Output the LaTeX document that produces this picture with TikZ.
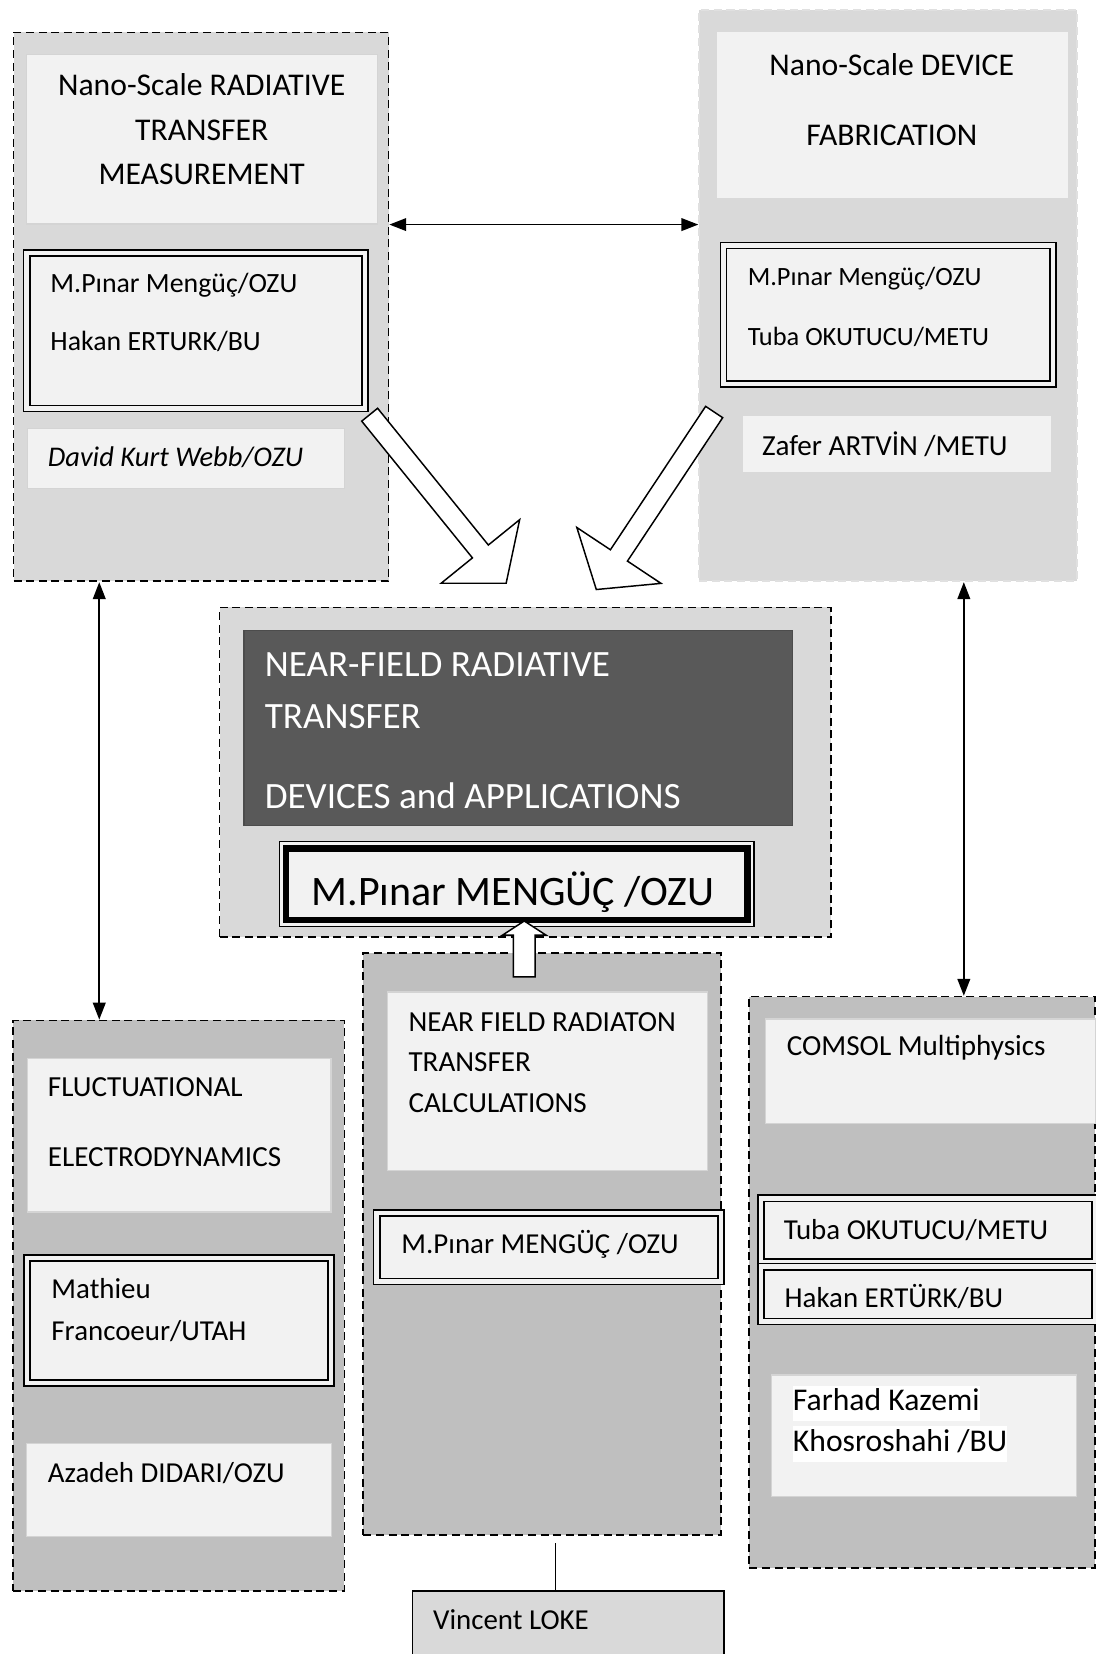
\documentclass[tikz,border=0pt]{standalone}
\usepackage{fontspec}
\setmainfont{Carlito}
\usetikzlibrary{shapes.arrows,arrows.meta}
\definecolor{boxtop}{HTML}{D9D9D9}
\definecolor{boxlow}{HTML}{BFBFBF}
\definecolor{paper}{HTML}{F2F2F2}
\definecolor{slate}{HTML}{595959}
\tikzset{
	grpbox/.style={draw,line width=0.8pt,dash pattern=on 3.8pt off 2.2pt,anchor=north west,inner sep=0pt},
	panel/.style={fill=paper,draw=black!17,line width=0.6pt,anchor=north west,inner sep=0pt},
	people/.style={fill=paper,draw,line width=0.8pt,double=paper,double distance=2.1pt,anchor=north west,inner sep=0pt},
	lbl/.style={anchor=west,inner sep=0pt,align=left},
	biarrow/.style={line width=0.8pt,{Triangle[length=8pt,width=6pt]}-{Triangle[length=8pt,width=6pt]}},
	hollow/.style={single arrow,draw,fill=white,line width=0.7pt,inner xsep=0pt,sloped,allow upside down,anchor=tail}
}
\begin{document}
\begin{tikzpicture}[x=0.5pt,y=-0.5pt]
	\useasboundingbox (0,0) rectangle (1039,1568);
	% measurement group
	\node[grpbox,fill=boxtop,minimum width=177.75pt,minimum height=260.15pt] (rad) at (12,30) {};
	\node[panel,minimum width=166.25pt,minimum height=80.25pt] (radhead) at (24.6,51.2) {};
	\node[align=center,inner sep=0pt,font=\fontsize{15pt}{21.1pt}\selectfont] (radtxt) at (191.2,122.8) {Nano-Scale RADIATIVE\\TRANSFER\\MEASUREMENT};
	\node[people,minimum width=160.3pt,minimum height=73.7pt] (radppl) at (24.5,239) {};
	\node[lbl,font=\fontsize{13.2pt}{27.5pt}\selectfont] (radppltxt) at (47.4,295.8) {M.Pınar Mengüç/OZU\\Hakan ERTURK/BU};
	\node[panel,minimum width=150.15pt,minimum height=28.5pt] (radwebb) at (25.4,405.6) {};
	\node[lbl,font=\fontsize{13.5pt}{16pt}\itshape] (radwebbtxt) at (45,433.2) {David Kurt Webb/OZU};
	% fabrication group
	\node[grpbox,draw=black!12,fill=boxtop,minimum width=179pt,minimum height=270.75pt] (dev) at (662,8.8) {};
	\node[panel,draw=none,minimum width=166.2pt,minimum height=78.7pt] (devhead) at (679.4,30) {};
	\node[align=center,inner sep=0pt,font=\fontsize{15pt}{33.2pt}\selectfont] (devtxt) at (845.4,94.8) {Nano-Scale DEVICE\\FABRICATION};
	\node[people,minimum width=156.2pt,minimum height=65.65pt] (devppl) at (685.1,231.9) {};
	\node[lbl,font=\fontsize{12.5pt}{28.5pt}\selectfont] (devppltxt) at (708.5,290.6) {M.Pınar Mengüç/OZU\\Tuba OKUTUCU/METU};
	\node[panel,draw=none,minimum width=145.9pt,minimum height=26.8pt] (devartvin) at (704.2,393.4) {};
	\node[lbl,font=\fontsize{13.8pt}{16pt}\selectfont] (devartvintxt) at (722,421) {Zafer ARTVİN /METU};
	% near-field group
	\node[grpbox,fill=boxtop,minimum width=289.85pt,minimum height=156.1pt] (nf) at (207.3,575.1) {};
	\node[fill=slate,draw=black!70,line width=0.6pt,anchor=north west,inner sep=0pt,minimum width=260pt,minimum height=92.45pt] (nfhead) at (230.8,597.2) {};
	\node[lbl,text=white,font=\fontsize{17.6pt}{24.5pt}\selectfont] (nftxt) at (250.6,692.8) {NEAR-FIELD RADIATIVE\\TRANSFER\\[13.4pt]DEVICES and APPLICATIONS};
	\node[draw,fill=paper,line width=0.6pt,anchor=north west,inner sep=0pt,minimum width=225pt,minimum height=40.25pt] (nfmengu) at (264.3,797.3) {};
	\draw[line width=3pt] ([shift={(7,7)}]nfmengu.north west) rectangle ([shift={(-7,-7)}]nfmengu.south east);
	\node[inner sep=0pt,font=\fontsize{19.9pt}{24pt}\selectfont] (nfmengutxt) at (486.4,845.9) {M.Pınar MENGÜÇ /OZU};
	% fluctuational group
	\node[grpbox,fill=boxlow,minimum width=157.25pt,minimum height=270.3pt] (fe) at (11.2,966.6) {};
	\node[panel,minimum width=143.9pt,minimum height=72.75pt] (fehead) at (25.4,1002.8) {};
	\node[lbl,font=\fontsize{13.8pt}{33pt}\selectfont] (fetxt) at (45,1063.5) {FLUCTUATIONAL\\ELECTRODYNAMICS};
	\node[people,minimum width=143.95pt,minimum height=59.2pt] (feppl) at (25,1191.8) {};
	\node[lbl,font=\fontsize{13.7pt}{19.8pt}\selectfont] (fepploxt) at (48.4,1241.8) {Mathieu\\Francoeur/UTAH};
	\node[panel,minimum width=144.7pt,minimum height=44pt] (fedidari) at (24.4,1368) {};
	\node[lbl,font=\fontsize{13.7pt}{16pt}\selectfont] (fedidaritxt) at (45,1396.6) {Azadeh DIDARI/OZU};
	% calculation group
	\node[grpbox,fill=boxlow,minimum width=169.4pt,minimum height=276pt] (calc) at (343.6,902.5) {};
	\node[panel,minimum width=151.65pt,minimum height=84.7pt] (calchead) at (366.7,939.8) {};
	\node[lbl,font=\fontsize{13.8pt}{19.2pt}\selectfont] (calctxt) at (386.9,1007) {NEAR FIELD RADIATON\\TRANSFER\\CALCULATIONS};
	\node[people,minimum width=163.1pt,minimum height=32.45pt] (calcppl) at (356.3,1149.1) {};
	\node[lbl,font=\fontsize{13.7pt}{16pt}\selectfont] (calcppltxt) at (380.2,1179.4) {M.Pınar MENGÜÇ /OZU};
	\node[draw,fill=boxtop,line width=0.8pt,anchor=north west,inner sep=0pt,minimum width=147.7pt,minimum height=50pt] (loke) at (390.3,1507.3) {};
	\node[lbl,font=\fontsize{13.7pt}{16pt}\selectfont] (loketxt) at (410.2,1535.8) {Vincent LOKE};
	% multiphysics group
	\node[grpbox,fill=boxlow,minimum width=164pt,minimum height=270.75pt] (mp) at (709.5,944) {};
	\node[panel,minimum width=156.55pt,minimum height=49.55pt] (mphead) at (725.4,965.4) {};
	\node[lbl,font=\fontsize{13.8pt}{16pt}\selectfont] (mpheadtxt) at (745.6,993.4) {COMSOL Multiphysics};
	\node[people,minimum width=158.25pt,minimum height=30.2pt] (mptuba) at (720.5,1135.2) {};
	\node[lbl,font=\fontsize{13.7pt}{16pt}\selectfont] (mptubatxt) at (742.6,1166) {Tuba OKUTUCU/METU};
	\node[people,minimum width=158.25pt,minimum height=25.95pt] (mphakan) at (720.5,1200) {};
	\node[lbl,font=\fontsize{13.7pt}{16pt}\selectfont] (mphakantxt) at (743.5,1229.3) {Hakan ERTÜRK/BU};
	\node[panel,minimum width=144.55pt,minimum height=57.5pt] (mpfarhad) at (731.1,1302.8) {};
	\node[lbl,fill=white,text height=12pt,text depth=5pt,font=\fontsize{15pt}{18pt}\selectfont] (mpfarhada) at (751.3,1330.5) {Farhad Kazemi};
	\node[lbl,fill=white,text height=12pt,text depth=5pt,font=\fontsize{15pt}{18pt}\selectfont] (mpfarhadb) at (751.3,1368.9) {Khosroshahi /BU};
	% connectors
	\coordinate (lcol) at (94.1,0);
	\coordinate (rcol) at (913.7,0);
	\coordinate (lokecol) at (526.8,0);
	\draw[biarrow] (rad.east |- radhead.south) -- (dev.west |- radhead.south);
	\draw[biarrow] (lcol |- rad.south) -- (lcol |- fe.north);
	\draw[biarrow] (rcol |- dev.south) -- (rcol |- mp.north);
	\draw[line width=0.7pt,shorten <=3.5pt] (lokecol |- calc.south) -- (lokecol |- loke.north);
	\coordinate (radtail) at (350,392.6);
	\coordinate (radtip) at (479.4,552.4);
	\coordinate (devtail) at (677.4,390);
	\coordinate (devtip) at (565.6,558.4);
	\coordinate (calctail) at (497,926.8);
	\coordinate (calctip) at (497,873.7);
	\path (radtail) -- node[hollow,pos=0,minimum height=102.8pt,inner ysep=4.5pt,single arrow head extend=19.1pt,single arrow tip angle=102] {} (radtip);
	\path (devtail) -- node[hollow,pos=0,minimum height=101pt,inner ysep=4.5pt,single arrow head extend=19.1pt,single arrow tip angle=102] {} (devtip);
	\path (calctail) -- node[hollow,pos=0,minimum height=26.5pt,inner ysep=4.8pt,single arrow head extend=5.1pt,single arrow tip angle=114] {} (calctip);
\end{tikzpicture}
\end{document}
